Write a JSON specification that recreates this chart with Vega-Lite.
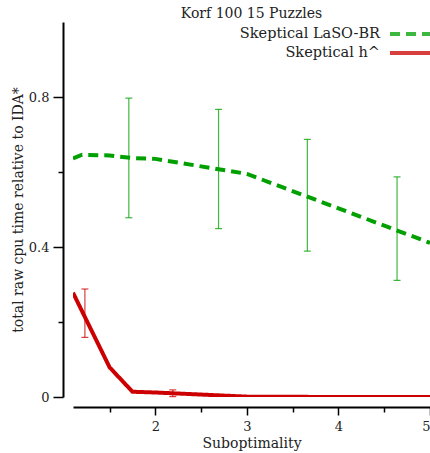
{
  "$schema": "https://vega.github.io/schema/vega-lite/v6.json",
  "width": 357,
  "height": 375,
  "autosize": {"type": "none"},
  "padding": {"left": 73, "top": 22, "right": 0, "bottom": 56},
  "background": "white",
  "title": {"text": "Korf 100 15 Puzzles", "font": "DejaVu Serif", "fontSize": 14, "fontWeight": "normal", "color": "#222", "offset": 1},
  "config": {
    "view": {"stroke": null},
    "font": "DejaVu Serif"
  },
  "datasets": {
    "lines": [
      {"series": "Skeptical LaSO-BR", "suboptimality": 1.1, "time": 0.636},
      {"series": "Skeptical LaSO-BR", "suboptimality": 1.2, "time": 0.646},
      {"series": "Skeptical LaSO-BR", "suboptimality": 1.5, "time": 0.644},
      {"series": "Skeptical LaSO-BR", "suboptimality": 1.75, "time": 0.637},
      {"series": "Skeptical LaSO-BR", "suboptimality": 2.0, "time": 0.635},
      {"series": "Skeptical LaSO-BR", "suboptimality": 3.0, "time": 0.595},
      {"series": "Skeptical LaSO-BR", "suboptimality": 4.0, "time": 0.503},
      {"series": "Skeptical LaSO-BR", "suboptimality": 5.0, "time": 0.411},
      {"series": "Skeptical h^", "suboptimality": 1.1, "time": 0.278},
      {"series": "Skeptical h^", "suboptimality": 1.5, "time": 0.079},
      {"series": "Skeptical h^", "suboptimality": 1.75, "time": 0.014},
      {"series": "Skeptical h^", "suboptimality": 2.0, "time": 0.012},
      {"series": "Skeptical h^", "suboptimality": 3.0, "time": 0.001},
      {"series": "Skeptical h^", "suboptimality": 4.0, "time": 0.0},
      {"series": "Skeptical h^", "suboptimality": 5.0, "time": 0.0}
    ],
    "errors": [
      {"series": "Skeptical LaSO-BR", "suboptimality": 1.71, "lo": 0.478, "hi": 0.797},
      {"series": "Skeptical LaSO-BR", "suboptimality": 2.69, "lo": 0.449, "hi": 0.767},
      {"series": "Skeptical LaSO-BR", "suboptimality": 3.66, "lo": 0.389, "hi": 0.687},
      {"series": "Skeptical LaSO-BR", "suboptimality": 4.64, "lo": 0.311, "hi": 0.587},
      {"series": "Skeptical h^", "suboptimality": 1.23, "lo": 0.159, "hi": 0.288},
      {"series": "Skeptical h^", "suboptimality": 2.19, "lo": 0.001, "hi": 0.019}
    ]
  },
  "layer": [
    {
      "data": {"name": "errors"},
      "mark": {"type": "errorbar", "ticks": {"size": 7}, "thickness": 1.2},
      "encoding": {
        "x": {"field": "suboptimality", "type": "quantitative", "title": "Suboptimality"},
        "y": {"field": "lo", "type": "quantitative", "title": "total raw cpu time relative to IDA*"},
        "y2": {"field": "hi"},
        "color": {"field": "series", "type": "nominal"},
        "opacity": {"value": 0.75}
      }
    },
    {
      "data": {"name": "lines"},
      "mark": {"type": "line", "strokeWidth": 4, "clip": true},
      "encoding": {
        "x": {
          "field": "suboptimality",
          "type": "quantitative",
          "title": "Suboptimality",
          "scale": {"domain": [1.1, 5], "nice": false, "zero": false},
          "axis": {
            "values": [1.5, 2, 2.5, 3, 3.5, 4, 4.5, 5],
            "labelExpr": "datum.value % 1 === 0 ? format(datum.value, 'd') : ''",
            "offset": 10,
            "grid": false,
            "domainColor": "black",
            "domainWidth": 2,
            "tickColor": "black",
            "tickWidth": 1.5,
            "tickSize": {"condition": {"test": "datum.value % 1 !== 0", "value": 5}, "value": 8},
            "labelFont": "DejaVu Serif",
            "labelFontSize": 13,
            "labelColor": "#222",
            "labelPadding": 5,
            "titleFont": "DejaVu Serif",
            "titleFontSize": 14,
            "titleFontWeight": "normal",
            "titleColor": "#222",
            "titlePadding": 3
          }
        },
        "y": {
          "field": "time",
          "type": "quantitative",
          "title": "total raw cpu time relative to IDA*",
          "scale": {"domain": [0, 1], "nice": false},
          "axis": {
            "values": [0, 0.2, 0.4, 0.6, 0.8],
            "labelExpr": "datum.value == 0 ? '0' : abs(datum.value - 0.4) < 1e-6 ? '0.4' : abs(datum.value - 0.8) < 1e-6 ? '0.8' : ''",
            "offset": 10,
            "grid": false,
            "domainColor": "black",
            "domainWidth": 2,
            "tickColor": "black",
            "tickWidth": 1.5,
            "tickSize": {"condition": {"test": "abs(datum.value - 0.2) < 1e-6 || abs(datum.value - 0.6) < 1e-6", "value": 5}, "value": 10},
            "labelFont": "DejaVu Serif",
            "labelFontSize": 13,
            "labelColor": "#222",
            "labelPadding": 4,
            "titleFont": "DejaVu Serif",
            "titleFontSize": 14,
            "titleFontWeight": "normal",
            "titleColor": "#222",
            "titlePadding": 3
          }
        },
        "color": {
          "field": "series",
          "type": "nominal",
          "scale": {"domain": ["Skeptical LaSO-BR", "Skeptical h^"], "range": ["#00a000", "#cc0000"]},
          "legend": {
            "orient": "none",
            "legendX": 329,
            "legendY": 3,
            "title": null,
            "padding": 0,
            "labelAlign": "right",
            "labelOffset": -40,
            "symbolType": "M-3,0H3",
            "symbolSize": 196,
            "symbolStrokeWidth": 4,
            "labelFont": "DejaVu Serif",
            "labelFontSize": 14.5,
            "labelColor": "#222",
            "labelLimit": 0,
            "rowPadding": 2
          }
        },
        "strokeDash": {
          "field": "series",
          "type": "nominal",
          "scale": {"domain": ["Skeptical LaSO-BR", "Skeptical h^"], "range": [[10, 6], [1, 0]]},
          "legend": {
            "orient": "none",
            "legendX": 329,
            "legendY": 3,
            "title": null,
            "padding": 0,
            "labelAlign": "right",
            "labelOffset": -40,
            "symbolType": "M-3,0H3",
            "symbolSize": 196,
            "symbolStrokeWidth": 4,
            "labelFont": "DejaVu Serif",
            "labelFontSize": 14.5,
            "labelColor": "#222",
            "labelLimit": 0,
            "rowPadding": 2
          }
        }
      }
    }
  ]
}
